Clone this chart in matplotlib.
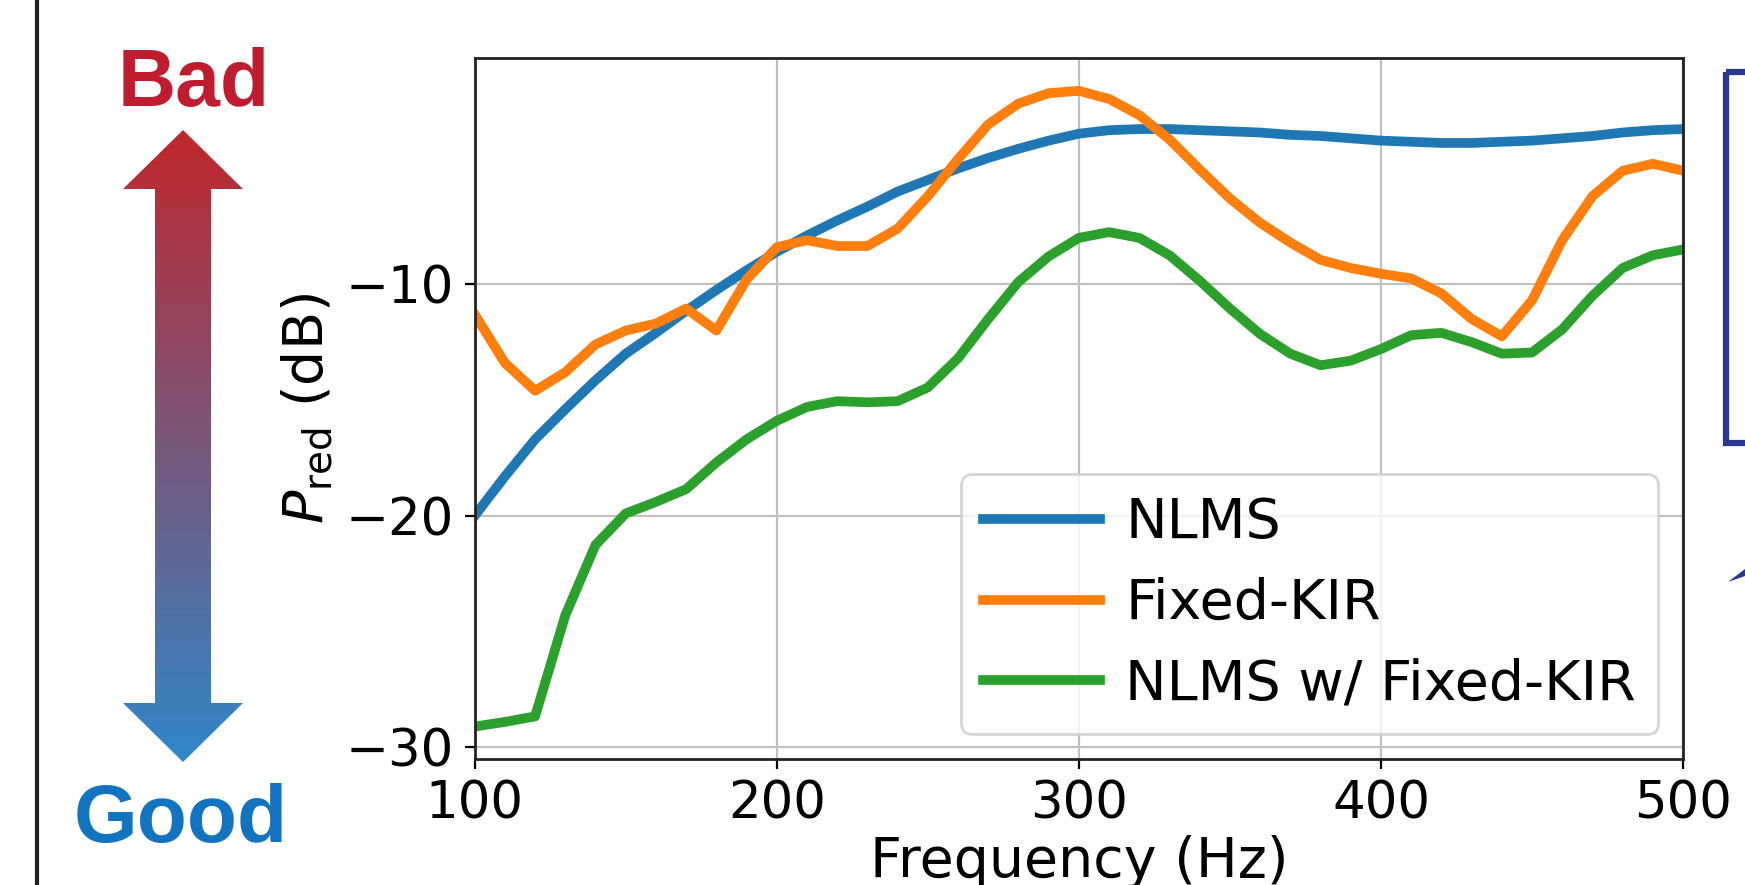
import numpy as np
import matplotlib
matplotlib.use("Agg")
import matplotlib.pyplot as plt
from matplotlib.patches import Polygon, Rectangle
from matplotlib.colors import LinearSegmentedColormap

# frequency grid (Hz) and the three P_red curves (dB)
freq = list(range(100, 501, 10))

nlms = [-20.0, -18.3, -16.7, -15.4, -14.15, -13.0, -12.1, -11.15, -10.25, -9.4,
        -8.6, -7.9, -7.25, -6.65, -6.0, -5.5, -5.0, -4.55, -4.15, -3.8,
        -3.5, -3.35, -3.3, -3.3, -3.35, -3.4, -3.45, -3.55, -3.6, -3.7,
        -3.8, -3.85, -3.9, -3.9, -3.85, -3.8, -3.7, -3.6, -3.45, -3.35, -3.3]

fixed_kir = [-11.3, -13.4, -14.6, -13.8, -12.6, -12.0, -11.7, -11.05, -12.0, -9.8,
             -8.4, -8.1, -8.35, -8.35, -7.6, -6.2, -4.6, -3.1, -2.2, -1.75,
             -1.65, -2.0, -2.7, -3.75, -5.05, -6.3, -7.35, -8.2, -8.95, -9.3,
             -9.55, -9.75, -10.4, -11.5, -12.25, -10.7, -8.1, -6.2, -5.1, -4.8, -5.1]

nlms_fixed = [-29.1, -28.9, -28.66, -24.3, -21.26, -19.9, -19.4, -18.85, -17.7, -16.7,
              -15.9, -15.3, -15.05, -15.1, -15.05, -14.46, -13.2, -11.5, -9.9, -8.8,
              -8.0, -7.75, -8.0, -8.75, -9.85, -11.05, -12.15, -13.0, -13.5, -13.3,
              -12.8, -12.2, -12.1, -12.5, -13.0, -12.95, -11.95, -10.5, -9.3, -8.75, -8.5]

labels = ["NLMS", "Fixed-KIR", "NLMS w/ Fixed-KIR"]
colors = ["#1f77b4", "#ff7f0e", "#2ca02c"]

W, H = 1745, 885
fig = plt.figure(figsize=(W / 100, H / 100), dpi=100)

# overlay in pixel coords for the surrounding diagram pieces
ov = fig.add_axes([0, 0, 1, 1], zorder=0)
ov.set_xlim(0, W)
ov.set_ylim(H, 0)
ov.axis("off")

ov.plot([37, 37], [0, H], color="#231f20", lw=3)

cx = 183
arrow_pts = [(cx, 130), (cx + 60, 189), (cx + 28, 189), (cx + 28, 703), (cx + 60, 703),
             (cx, 762), (cx - 60, 703), (cx - 28, 703), (cx - 28, 189), (cx - 60, 189)]
arr = Polygon(arrow_pts, closed=True, facecolor="none", edgecolor="none")
ov.add_patch(arr)
cmap = LinearSegmentedColormap.from_list("badgood", ["#c1272d", "#2f87c9"])
grad = np.linspace(0, 1, 256).reshape(-1, 1)
im = ov.imshow(grad, cmap=cmap, extent=(cx - 61, cx + 61, 762, 130), aspect="auto")
im.set_clip_path(arr)
ov.set_xlim(0, W)
ov.set_ylim(H, 0)

ov.text(194, 106, "Bad", color="#c01c30", fontsize=58, fontweight="bold",
        family="Liberation Sans", ha="center", va="baseline")
ov.text(181, 842, "Good", color="#1273be", fontsize=59, fontweight="bold",
        family="Liberation Sans", ha="center", va="baseline")

ov.add_patch(Rectangle((1726, 72), 100, 371, facecolor="none",
                       edgecolor="#283990", lw=4.5))
ov.add_patch(Polygon([(1728, 582), (1745, 569), (1745, 576)], closed=True,
                     facecolor="#283990", edgecolor="none"))

# main chart
ax = fig.add_axes([0.272, 0.1424, 0.6925, 0.7916], zorder=1)
ax.plot(freq, nlms, color=colors[0], lw=7, label=labels[0])
ax.plot(freq, fixed_kir, color=colors[1], lw=7, label=labels[1])
ax.plot(freq, nlms_fixed, color=colors[2], lw=7, label=labels[2])

ax.set_xlim(100, 500)
ax.set_ylim(-30.5, -0.25)
ax.set_xticks([100, 200, 300, 400, 500])
ax.set_yticks([-30, -20, -10])
ax.grid(True, color="#c0c0c0", lw=1.6)
ax.tick_params(labelsize=37, length=7, width=1.6, pad=8)
for s in ax.spines.values():
    s.set_linewidth(2)
    s.set_color("#222222")

ax.set_xlabel("Frequency (Hz)", fontsize=40, labelpad=4)
ax.set_ylabel(r"$P_{\mathrm{red}}$ (dB)", fontsize=40, labelpad=8)

leg = ax.legend(loc="lower right", fontsize=40, handlelength=2.1,
                handletextpad=0.45, borderaxespad=0.45, framealpha=0.8,
                labelspacing=0.48)
leg.get_frame().set_linewidth(2)

fig.savefig("out.png", dpi=100)
